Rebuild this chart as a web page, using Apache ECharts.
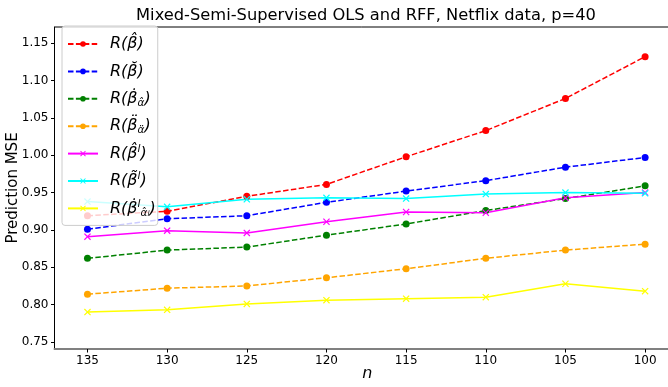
<!DOCTYPE html>
<html>
<head>
<meta charset="utf-8">
<script src="https://cdn.jsdelivr.net/npm/echarts@6/dist/echarts.min.js"></script>
<style>html,body{margin:0;padding:0;background:#fff}#c{width:668px;height:387px}</style>
</head>
<body>
<div id="c"></div>
<script>
var nValues = [135, 130, 125, 120, 115, 110, 105, 100];
var yTicks = [0.75, 0.80, 0.85, 0.90, 0.95, 1.00, 1.05, 1.10, 1.15];

var rHat        = [0.919, 0.925, 0.945, 0.961, 0.998, 1.033, 1.076, 1.132];
var rBreve      = [0.901, 0.915, 0.919, 0.937, 0.952, 0.966, 0.984, 0.997];
var rDotAlpha   = [0.862, 0.873, 0.877, 0.893, 0.908, 0.926, 0.942, 0.959];
var rDDotAlpha  = [0.814, 0.822, 0.825, 0.836, 0.848, 0.862, 0.873, 0.881];
var rHatL       = [0.891, 0.899, 0.896, 0.911, 0.924, 0.923, 0.943, 0.950];
var rTildeL     = [0.938, 0.931, 0.941, 0.943, 0.942, 0.948, 0.950, 0.949];
var rDotL       = [0.790, 0.793, 0.801, 0.806, 0.808, 0.810, 0.828, 0.818];

var xMark = 'path://M0,1.2L1.2,0L5,3.8L8.8,0L10,1.2L6.2,5L10,8.8L8.8,10L5,6.2L1.2,10L0,8.8L3.8,5Z';

var seriesDefs = [
  {name: 's1', data: rHat, color: '#ff0000', dashed: true},
  {name: 's2', data: rBreve, color: '#0000ff', dashed: true},
  {name: 's3', data: rDotAlpha, color: '#008000', dashed: true},
  {name: 's4', data: rDDotAlpha, color: '#ffa500', dashed: true},
  {name: 's5', data: rHatL, color: '#ff00ff', dashed: false},
  {name: 's6', data: rTildeL, color: '#00ffff', dashed: false},
  {name: 's7', data: rDotL, color: '#ffff00', dashed: false}
];

var labels = {
  s1: '{t|R(β\u0302)}',
  s2: '{t|R(β\u0306)}',
  s3: '{t|R(β\u0307}{s|α\u0302}{t|)}',
  s4: '{t|R(β\u0308}{s|α\u0308}{t|)}',
  s5: '{t|R(β\u0302}{p|l}{t|)}',
  s6: '{t|R(β\u0303}{p|l}{t|)}',
  s7: '{t|R(β\u0307}{p|l}{s|α\u0302}{ss|l}{t|)}'
};

var font = 'DejaVu Sans';

var series = seriesDefs.map(function (d) {
  return {
    name: d.name,
    type: 'line',
    data: nValues.map(function (n, i) { return [n, d.data[i]]; }),
    symbol: d.dashed ? 'circle' : xMark,
    symbolSize: 7,
    showSymbol: true,
    itemStyle: {color: d.color},
    lineStyle: {color: d.color, width: 1.5, type: d.dashed ? [5.5, 2.4] : 'solid'},
    animation: false,
    z: 2
  };
});

var chart = echarts.init(document.getElementById('c'));
chart.setOption({
  animation: false,
  title: {
    text: 'Mixed-Semi-Supervised OLS and RFF, Netflix data, p=40',
    left: 361, top: 3, textAlign: 'center',
    textStyle: {fontFamily: font, fontSize: 16.3, fontWeight: 'normal', color: '#000'}
  },
  grid: {left: 54.5, right: -12, top: 27, bottom: 38, outerBoundsMode: 'none', containLabel: false,
    show: true, borderColor: '#000', borderWidth: 1, backgroundColor: 'transparent'},
  legend: {
    left: 62, top: 26, orient: 'vertical',
    padding: [8, 2, 7, 5],
    itemWidth: 30, itemHeight: 7, itemGap: 7.4,
    backgroundColor: 'rgba(255,255,255,0.8)',
    borderColor: '#cccccc', borderWidth: 1, borderRadius: 3,
    data: seriesDefs.map(function (d) { return d.name; }),
    formatter: function (name) { return labels[name]; },
    textStyle: {
      padding: [0, 0, 0, 7],
      height: 20, lineHeight: 20,
      rich: {
        t: {fontFamily: font, fontStyle: 'italic', fontSize: 16, lineHeight: 20, color: '#000'},
        s: {fontFamily: font, fontStyle: 'italic', fontSize: 10.5, lineHeight: 8, verticalAlign: 'bottom', color: '#000'},
        ss: {fontFamily: font, fontStyle: 'italic', fontSize: 7.5, lineHeight: 5, verticalAlign: 'bottom', color: '#000'},
        p: {fontFamily: font, fontStyle: 'italic', fontSize: 10.5, lineHeight: 10, verticalAlign: 'top', color: '#000'}
      }
    }
  },
  xAxis: {
    type: 'value', inverse: true, min: 97.81, max: 137.07,
    name: 'n', nameLocation: 'middle', nameGap: 17, nameMoveOverlap: false,
    nameTextStyle: {fontFamily: font, fontStyle: 'italic', fontSize: 16, color: '#000'},
    axisLine: {show: true, lineStyle: {color: '#808080', width: 2}},
    axisTick: {show: true, length: 3.5, lineStyle: {color: '#000'}, customValues: nValues},
    axisLabel: {customValues: nValues, fontFamily: font, fontSize: 12, color: '#000', margin: 6},
    splitLine: {show: false}
  },
  yAxis: {
    type: 'value', min: 0.7406, max: 1.1717,
    name: 'Prediction MSE', nameLocation: 'middle', nameGap: 34, nameMoveOverlap: false,
    nameTextStyle: {fontFamily: font, fontSize: 15, color: '#000'},
    axisLine: {show: true, lineStyle: {color: '#000', width: 1}},
    axisTick: {show: true, length: 3.5, lineStyle: {color: '#000'}, customValues: yTicks},
    axisLabel: {customValues: yTicks, fontFamily: font, fontSize: 12, color: '#000', margin: 6,
      formatter: function (v) { return v.toFixed(2); }},
    splitLine: {show: false}
  },
  series: series
});
</script>
</body>
</html>
